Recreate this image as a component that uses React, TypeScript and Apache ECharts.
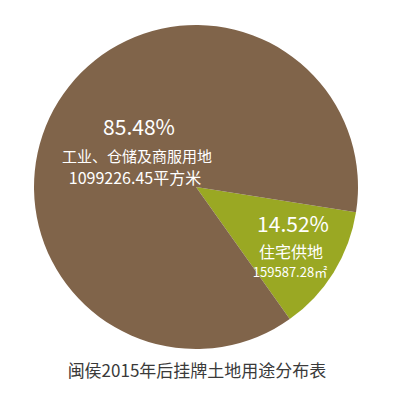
import React, { useEffect, useRef } from "react";
import * as echarts from "echarts";

const categories = ["住宅供地", "工业、仓储及商服用地"];
const areaValues = [159587.28, 1099226.45];
const percentLabels = ["14.52%", "85.48%"];
const areaLabels = ["159587.28㎡", "1099226.45平方米"];
const sliceColors = ["#9aa823", "#80644a"];
const chartTitle = "闽侯2015年后挂牌土地用途分布表";

const FONT = "'Noto Sans CJK SC', 'Noto Sans', sans-serif";

function label(text: string, x: number, y: number, size: number, fill = "#ffffff") {
  return {
    type: "text",
    x,
    y,
    z: 100,
    zlevel: 1,
    style: {
      text,
      fill,
      font: `${size}px ${FONT}`,
      align: "center",
      verticalAlign: "middle",
      lineHeight: size,
    },
  };
}

export default function App() {
  const ref = useRef<HTMLDivElement>(null);
  useEffect(() => {
    if (!ref.current) return;
    const chart = echarts.init(ref.current, null, { renderer: "svg" });
    chart.setOption({
      animation: false,
      backgroundColor: "#ffffff",
      series: [
        {
          type: "pie",
          center: [196, 187],
          radius: [0, 162],
          startAngle: -9,
          clockwise: true,
          label: { show: false },
          labelLine: { show: false },
          silent: true,
          itemStyle: { borderWidth: 0 },
          data: categories.map((c, i) => ({
            name: c,
            value: areaValues[i],
            itemStyle: { color: sliceColors[i] },
          })),
        },
      ],
      graphic: [
        label(percentLabels[1], 139, 126, 21),
        label(categories[1], 137, 155, 15),
        label(areaLabels[1], 135, 177, 16),
        label(percentLabels[0], 293, 223, 21),
        label(categories[0], 291, 251, 16),
        label(areaLabels[0], 290, 271, 13),
        label(chartTitle, 197, 369, 17, "#3a3a3a"),
      ],
    });
    return () => chart.dispose();
  }, []);
  return (
    <div
      ref={ref}
      style={{ position: "fixed", left: 0, top: 0, width: 400, height: 397 }}
    />
  );
}
